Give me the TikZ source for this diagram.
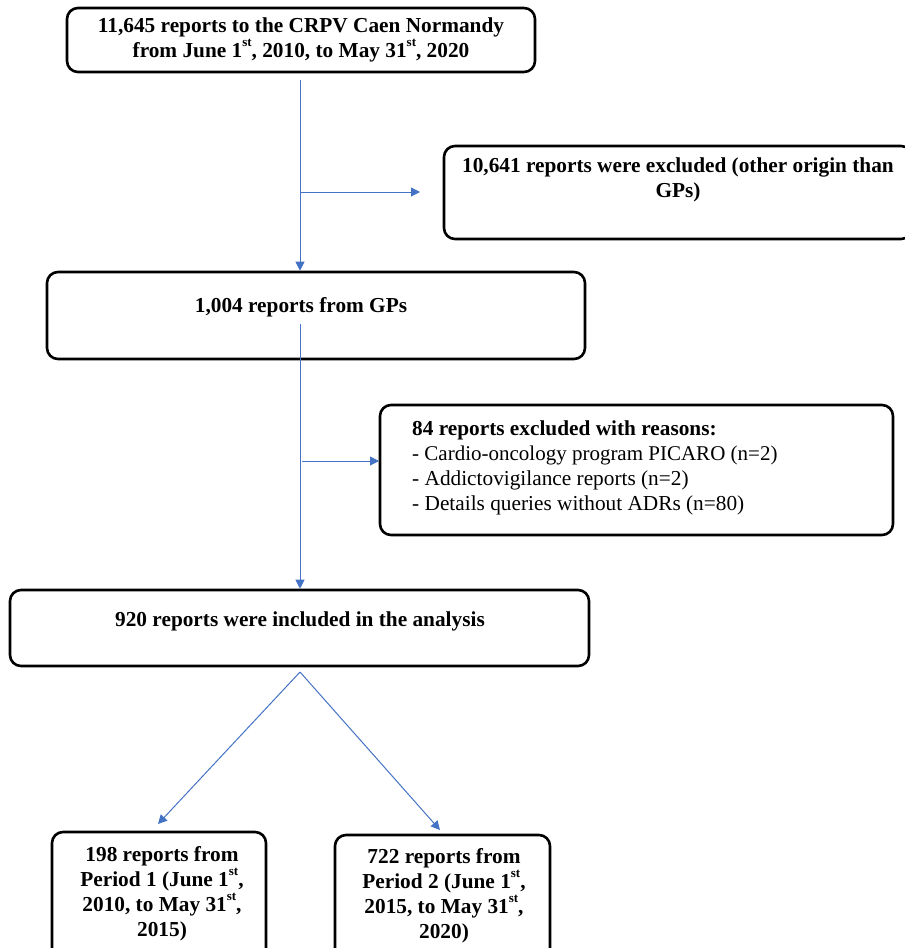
\documentclass[tikz,border=0pt]{standalone}
\usepackage{fontspec}
\setmainfont{Liberation Serif}
\usetikzlibrary{arrows.meta,positioning}
\definecolor{flowBlue}{RGB}{68,114,196}
\newcommand\ordsup[1]{\raisebox{0.5em}{\fontsize{13}{13}\selectfont #1}}

\tikzset{
  flowbox/.style={draw=black,line width=2.6pt,rounded corners=11pt,inner sep=0pt},
  flowtext/.style={font=\fontsize{21.3}{25}\selectfont\bfseries,align=center,inner sep=0pt},
  flowarrow/.style={draw=flowBlue,line width=1pt,-{Triangle[length=9pt,width=9pt]}}
}

\begin{document}
\begin{tikzpicture}[x=1pt,y=-1pt]

  \useasboundingbox (0,0) rectangle (905,948);

  % boxes
  \node[flowbox,minimum width=468pt,minimum height=64pt] (src) at (301,40) {};
  \node[flowbox,minimum width=468pt,minimum height=93pt] (excl1) at (678,192.5) {};
  \node[flowbox,minimum width=538pt,minimum height=87pt] (gp) at (316,315.5) {};
  \node[flowbox,minimum width=513pt,minimum height=130pt] (excl2) at (636.5,470) {};
  \node[flowbox,minimum width=579pt,minimum height=76pt] (incl) at (299.5,628) {};
  \node[flowbox,minimum width=214pt,minimum height=130pt] (per1) at (159,897) {};
  \node[flowbox,minimum width=215pt,minimum height=130pt] (per2) at (442.5,900) {};

  % texts
  \node[flowtext] (srcTxt) at (301,40) {11,645 reports to the CRPV Caen Normandy\\
    from June 1\ordsup{st}, 2010, to May 31\ordsup{st}, 2020};
  \node[flowtext,anchor=north] (excl1Txt) at (678,158) {10,641 reports were excluded (other origin than\\GPs)};
  \node[flowtext] (gpTxt) at (301,307) {1,004 reports from GPs};
  \node[flowtext,align=left,anchor=north west] (excl2Txt) at (412,421) {84 reports excluded with reasons:\\
    \mdseries\fontsize{21}{24.5}\selectfont - Cardio-oncology program PICARO (n=2)\\
    \mdseries - Addictovigilance reports (n=2)\\
    \mdseries - Details queries without ADRs (n=80)};
  \node[flowtext] (inclTxt) at (300,621) {920 reports were included in the analysis};
  \node[flowtext,anchor=north] (per1Txt) at (162,846) {198 reports from\\Period 1 (June 1\ordsup{st},\\
    2010, to May 31\ordsup{st},\\2015)};
  \node[flowtext,anchor=north] (per2Txt) at (444,848) {722 reports from\\Period 2 (June 1\ordsup{st},\\
    2015, to May 31\ordsup{st},\\2020)};

  % connector ends
  \coordinate (s1) at (300,80);
  \coordinate (b1) at (300,192);
  \coordinate (e1) at (420,192);
  \coordinate (s2) at (300,324);
  \coordinate (b2a) at (302,461);
  \coordinate (e2) at (379,461);
  \coordinate (s3) at (300,672);
  \coordinate (e3a) at (158,824);
  \coordinate (e3b) at (440,830);

  % arrows
  \draw[flowarrow] (s1) -- (s1 |- gp.north);
  \draw[flowarrow] (b1) -- (e1);
  \draw[flowarrow] (s2) -- (s2 |- incl.north);
  \draw[flowarrow] (b2a) -- (e2);
  \draw[flowarrow] (s3) -- (e3a);
  \draw[flowarrow] (s3) -- (e3b);

\end{tikzpicture}
\end{document}
